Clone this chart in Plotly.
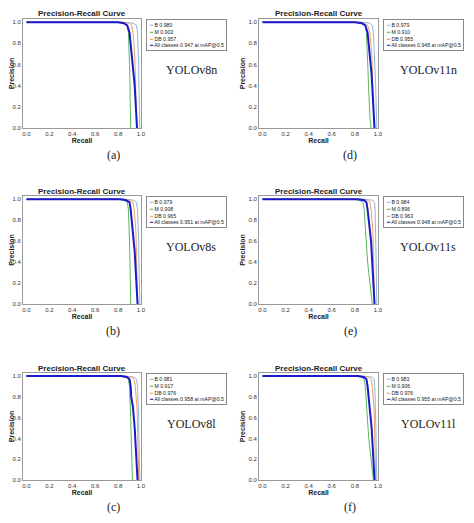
import plotly.graph_objects as go

models = ["YOLOv8n", "YOLOv11n", "YOLOv8s", "YOLOv11s", "YOLOv8l", "YOLOv11l"]
captions = ["(a)", "(d)", "(b)", "(e)", "(c)", "(f)"]
ap_b = [0.980, 0.979, 0.979, 0.984, 0.981, 0.983]
ap_m = [0.903, 0.910, 0.908, 0.896, 0.917, 0.906]
ap_db = [0.957, 0.955, 0.965, 0.963, 0.976, 0.976]
ap_all = [0.947, 0.948, 0.951, 0.948, 0.958, 0.955]

prec = [1.0, 1.0, 0.99, 0.97, 0.9, 0.8, 0.7, 0.6, 0.5, 0.4, 0.3, 0.2, 0.1, 0.0]

rec_b = [
    [0, 0.85, 0.93, 0.96, 0.97, 0.975, 0.978, 0.98, 0.98, 0.982, 0.983, 0.985, 0.987, 0.99],
    [0, 0.86, 0.93, 0.95, 0.96, 0.965, 0.97, 0.975, 0.978, 0.98, 0.982, 0.984, 0.986, 0.99],
    [0, 0.86, 0.94, 0.96, 0.97, 0.975, 0.978, 0.98, 0.98, 0.982, 0.983, 0.985, 0.987, 0.99],
    [0, 0.88, 0.95, 0.97, 0.975, 0.978, 0.98, 0.982, 0.983, 0.984, 0.985, 0.986, 0.988, 0.99],
    [0, 0.87, 0.94, 0.96, 0.97, 0.975, 0.978, 0.98, 0.98, 0.982, 0.983, 0.985, 0.987, 0.99],
    [0, 0.88, 0.95, 0.965, 0.972, 0.976, 0.979, 0.981, 0.982, 0.983, 0.984, 0.985, 0.987, 0.99],
]
rec_m = [
    [0, 0.78, 0.85, 0.88, 0.89, 0.895, 0.898, 0.9, 0.902, 0.903, 0.905, 0.907, 0.908, 0.91],
    [0, 0.8, 0.86, 0.89, 0.9, 0.905, 0.91, 0.912, 0.915, 0.918, 0.92, 0.925, 0.93, 0.94],
    [0, 0.78, 0.85, 0.88, 0.89, 0.895, 0.898, 0.9, 0.902, 0.903, 0.905, 0.907, 0.908, 0.91],
    [0, 0.77, 0.84, 0.87, 0.88, 0.885, 0.89, 0.895, 0.9, 0.91, 0.92, 0.93, 0.94, 0.95],
    [0, 0.8, 0.87, 0.89, 0.9, 0.905, 0.908, 0.91, 0.912, 0.915, 0.918, 0.92, 0.922, 0.925],
    [0, 0.79, 0.86, 0.88, 0.89, 0.895, 0.9, 0.905, 0.91, 0.92, 0.93, 0.94, 0.95, 0.96],
]
rec_db = [
    [0, 0.82, 0.9, 0.92, 0.93, 0.94, 0.945, 0.948, 0.95, 0.953, 0.955, 0.957, 0.96, 0.965],
    [0, 0.82, 0.88, 0.91, 0.93, 0.94, 0.945, 0.95, 0.953, 0.955, 0.957, 0.96, 0.962, 0.965],
    [0, 0.84, 0.9, 0.93, 0.94, 0.95, 0.955, 0.958, 0.96, 0.962, 0.964, 0.966, 0.968, 0.97],
    [0, 0.85, 0.91, 0.93, 0.94, 0.95, 0.955, 0.958, 0.96, 0.962, 0.964, 0.966, 0.968, 0.97],
    [0, 0.86, 0.92, 0.94, 0.95, 0.96, 0.965, 0.968, 0.97, 0.972, 0.974, 0.976, 0.978, 0.98],
    [0, 0.86, 0.92, 0.94, 0.95, 0.96, 0.965, 0.968, 0.97, 0.972, 0.974, 0.976, 0.978, 0.98],
]
rec_all = [
    [0, 0.8, 0.85, 0.88, 0.9, 0.91, 0.92, 0.93, 0.94, 0.945, 0.95, 0.955, 0.96, 0.965],
    [0, 0.8, 0.86, 0.89, 0.91, 0.92, 0.93, 0.94, 0.945, 0.95, 0.955, 0.96, 0.965, 0.97],
    [0, 0.82, 0.87, 0.9, 0.91, 0.92, 0.93, 0.94, 0.945, 0.95, 0.955, 0.96, 0.965, 0.97],
    [0, 0.82, 0.88, 0.9, 0.91, 0.92, 0.935, 0.94, 0.945, 0.95, 0.955, 0.96, 0.965, 0.97],
    [0, 0.83, 0.88, 0.9, 0.91, 0.915, 0.93, 0.94, 0.945, 0.95, 0.955, 0.96, 0.965, 0.97],
    [0, 0.83, 0.88, 0.9, 0.91, 0.92, 0.93, 0.94, 0.945, 0.95, 0.955, 0.96, 0.965, 0.97],
]

PAD = 8  # page body margin around the plot div
W, H = 474 - 2 * PAD, 523 - 2 * PAD
fx = lambda px: (px - PAD) / W
fy = lambda py: 1 - (py - PAD) / H

# plot area pixel boxes in window coords: (x0, x1) per column, (ytop, ybottom) per row
cols = [(23, 141), (259, 378)]
rows = [(19, 128), (196, 304), (373, 480)]
colors = ["#8db8de", "#5cb85c", "#f0a060", "#1a1acc"]

fig = go.Figure()
layout = dict(width=W, height=H, margin=dict(l=0, r=0, t=0, b=0, autoexpand=False),
              plot_bgcolor="white", paper_bgcolor="white", showlegend=False)
anns = []
sans = "Liberation Sans, Arial"

def note(text, x, y, size, family=sans, **kw):
    d = dict(text=text, x=x, y=y, xref="paper", yref="paper", showarrow=False,
             xanchor="center", yanchor="middle", font=dict(size=size, family=family, color="#222"))
    d.update(kw)
    anns.append(d)

for i, m in enumerate(models):
    r, c = divmod(i, 2)
    x0, x1 = cols[c]
    yt, yb = rows[r]
    n = i + 1
    sx = "" if n == 1 else str(n)
    names = [f"B {ap_b[i]:.3f}", f"M {ap_m[i]:.3f}", f"DB {ap_db[i]:.3f}",
             f"All classes {ap_all[i]:.3f} at mAP@0.5"]
    for rec, name, col, w in zip([rec_b[i], rec_m[i], rec_db[i], rec_all[i]], names, colors, [1, 1, 1, 2]):
        fig.add_trace(go.Scatter(x=rec, y=prec, mode="lines", name=name,
                                 line=dict(color=col, width=w),
                                 xaxis="x" + sx, yaxis="y" + sx))
    ax = dict(tickvals=[0, 0.2, 0.4, 0.6, 0.8, 1.0], automargin=False,
              tickformat=".1f", tickfont=dict(size=6, color="#333", family=sans),
              showgrid=False, zeroline=False, showline=True, mirror=True,
              linecolor="#999", linewidth=1, ticks="")
    layout["xaxis" + sx] = dict(ax, range=[-0.03, 1.0], domain=[fx(x0), fx(x1)], anchor="y" + sx,
                                title=dict(text="<b>Recall</b>", font=dict(size=7), standoff=0))
    layout["yaxis" + sx] = dict(ax, range=[0, 1.03], domain=[fy(yb), fy(yt)], anchor="x" + sx,
                                title=dict(text="<b>Precision</b>", font=dict(size=7), standoff=2))
    # legend box drawn as one annotation
    leg = "<br>".join(
        f"<span style='color:{col}'><b>━</b></span> {nm}" for nm, col in zip(names, colors))
    note(leg, fx(x1 + 5), fy(yt), 5.2, xanchor="left", yanchor="top", align="left",
         bordercolor="#888", borderwidth=1, borderpad=2, bgcolor="white")
    note("<b>Precision-Recall Curve</b>", fx((x0 + x1) / 2), fy(yt - 5), 8)
    note(m, fx(x1 + 50), fy(yt + 51), 12, family="Liberation Serif")
    note(captions[i], fx(113 if c == 0 else 350), fy(yb + 27), 12, family="Liberation Serif")

layout["annotations"] = anns
layout["font"] = dict(family=sans, color="#222")
fig.update_layout(**layout)
fig.write_html("out.html")
